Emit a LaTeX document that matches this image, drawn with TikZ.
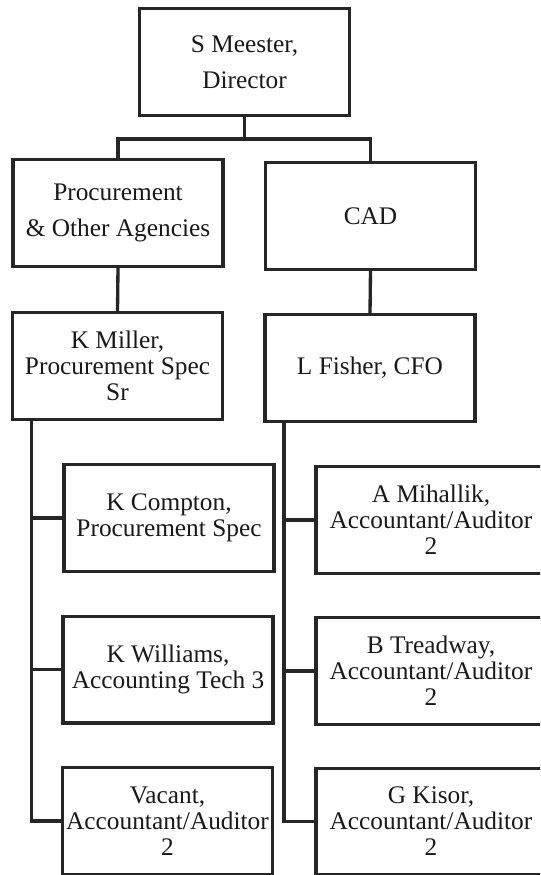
\documentclass[tikz,border=0pt]{standalone}
\usepackage{fontspec}
\setmainfont{Liberation Serif}
\begin{document}
\begin{tikzpicture}[x=0.75pt, y=-0.75pt, line width=2.5pt, draw=black!85,
    box/.style={draw, rectangle, align=center, inner sep=2pt,
      minimum width=157.5pt, minimum height=80pt},
    topbox/.style={box, font=\fontsize{19}{27}\selectfont},
    widebox/.style={box, minimum width=172.5pt}]
      \tikzset{every node/.style={font=\fontsize{19}{19.5}\selectfont, text=black!90}}
      \useasboundingbox (0,0) rectangle (540,875);
      \clip (0,0) rectangle (540,875);
      % top two levels
      \node[topbox] (dir) at (244.5,62) {S Meester,\\Director};
      \node[topbox] (proc) at (118,213) {Procurement\\\& Other Agencies};
      \node[topbox] (cad) at (370.5,216) {CAD};
      \node[box] (miller) at (117.5,366) {K Miller,\\Procurement Spec\\Sr};
      \node[box] (fisher) at (370,368) {L Fisher, CFO};
      % staff
      \node[box] (compton) at (169,518) {K Compton,\\Procurement Spec};
      \node[box] (williams) at (168,669.5) {K Williams,\\Accounting Tech 3};
      \node[box] (vacant) at (167.5,821) {Vacant,\\Accountant/Auditor\\2};
      \node[widebox] (mihallik) at (431,520) {A Mihallik,\\Accountant/Auditor\\2};
      \node[widebox] (treadway) at (431,671) {B Treadway,\\Accountant/Auditor\\2};
      \node[widebox] (kisor) at (431,821.5) {G Kisor,\\Accountant/Auditor\\2};
      % connectors
      \draw (dir.south) -- ++(0,22) -| (proc.north);
      \draw (dir.south) -- ++(0,22) -| (cad.north);
      \draw (proc.south) -- (miller.north);
      \draw (cad.south) -- (fisher.north);
      \coordinate (mbus) at ([xshift=15.5pt]miller.south west);
      \coordinate (fbus) at ([xshift=15.5pt]fisher.south west);
      \draw (mbus) |- (vacant.west);
      \draw (fbus) |- (kisor.west);
      \foreach \n in {compton, williams}
        \draw (\n.west -| mbus) -- (\n.west);
      \foreach \n in {mihallik, treadway}
        \draw (\n.west -| fbus) -- (\n.west);
\end{tikzpicture}
\end{document}
